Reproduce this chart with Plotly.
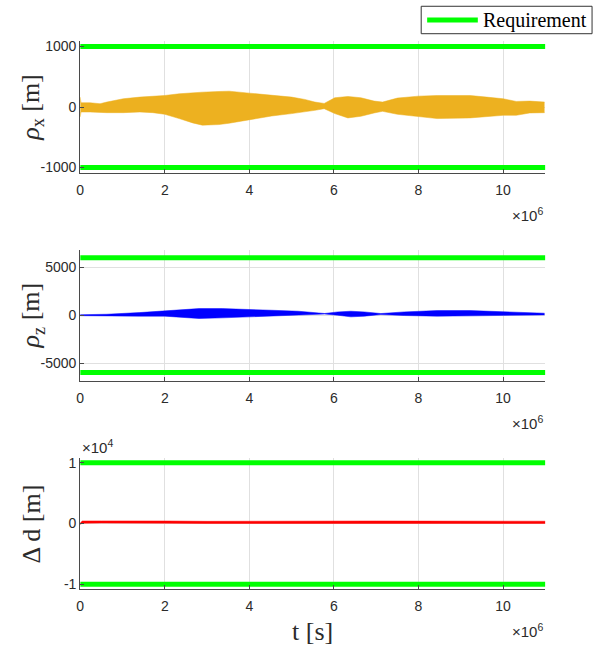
import plotly.graph_objects as go

# ---------------- data ----------------
# rho_x envelope, time in units of 1e6 s
t_rx = [0.0, 0.02, 0.23, 0.47, 0.63, 1.02, 1.41, 1.72, 2.0, 2.34, 2.66, 2.89, 3.28, 3.52,
        4.0, 4.53, 5.0, 5.31, 5.55, 5.77, 6.02, 6.33, 6.64, 6.95, 7.15, 7.5, 8.0, 8.44,
        9.22, 9.61, 10.0, 10.31, 10.63, 10.98]
rx_upper = [164, 71, 71, 55, 82, 137, 164, 175, 191, 219, 240, 246, 257, 262,
            230, 191, 164, 126, 82, 60, 153, 175, 153, 98, 82, 148, 180, 191,
            191, 164, 137, 93, 98, 82]
rx_lower = [-164, -82, -82, -93, -93, -93, -82, -93, -120, -191, -262, -300, -290, -268,
            -208, -148, -109, -82, -55, -27, -109, -180, -153, -98, -71, -120, -164, -191,
            -180, -153, -137, -137, -98, -93]

# rho_z envelope
t_rz = [0.0, 0.63, 1.41, 2.0, 2.42, 2.81, 3.36, 3.75, 4.0, 4.53, 5.16, 5.63, 5.78,
        6.09, 6.4, 6.72, 7.11, 7.66, 8.44, 9.22, 10.0, 10.98]
rz_upper = [50, 100, 276, 450, 586, 690, 690, 655, 620, 517, 414, 276, 180,
            345, 414, 345, 172, 345, 483, 483, 345, 207]
rz_lower = [-50, -100, -100, -100, -207, -345, -276, -207, -172, -100, -34, 70, 120,
            0, -172, -100, 70, -34, -100, -69, 0, 34]

# Delta d (thin noisy band)
t_dd = [0.0, 0.05, 0.5, 1.0, 1.5, 2.0, 3.0, 4.0, 5.0, 6.0, 7.0, 8.0, 9.0, 10.0, 11.0]
dd_upper = [100, 420, 430, 460, 480, 420, 360, 400, 350, 430, 420, 400, 380, 360, 380]
dd_lower = [-150, 60, 80, 100, 110, 60, 0, 20, 0, 60, 60, 40, 20, 0, 20]

# requirements
req_x = 1000
req_z = 6000
req_d = 10000
t_end = 11.0
legend_label = "Requirement"

# tick labels
x_tickvals = [0, 2, 4, 6, 8, 10]
x_ticktext = ["0", "2", "4", "6", "8", "10"]
y1_tickvals = [-1000, 0, 1000]
y1_ticktext = ["-1000", "0", "1000"]
y2_tickvals = [-5000, 0, 5000]
y2_ticktext = ["-5000", "0", "5000"]
y3_tickvals = [-10000, 0, 10000]
y3_ticktext = ["-1", "0", "1"]

# ---------------- figure ----------------
W, H = 600, 650
SCALE = 1e6
GREEN = "#00FF00"
ORANGE = "#EDB120"
BLUE = "#0000FF"
RED = "#FF0000"
AX = "#4a4a4a"
TXT = "#2b2b2b"
GRID = "#e0e0e0"
SERIF = "Liberation Serif, Times New Roman, serif"
SANS = "Liberation Sans, Arial, Helvetica, sans-serif"

fig = go.Figure()

def sx(v):
    return [a * SCALE for a in v]

def band(t, lo, up, color, xa, ya):
    fig.add_trace(go.Scatter(x=sx(t), y=lo, mode="lines", line=dict(width=0.5, color=color),
                             xaxis=xa, yaxis=ya, showlegend=False, hoverinfo="skip"))
    fig.add_trace(go.Scatter(x=sx(t), y=up, mode="lines", line=dict(width=0.5, color=color),
                             fill="tonexty", fillcolor=color, xaxis=xa, yaxis=ya,
                             showlegend=False, hoverinfo="skip"))

def req(level, xa, ya):
    for v in [level, -level]:
        fig.add_trace(go.Scatter(x=[0, t_end * SCALE], y=[v, v], mode="lines",
                                 line=dict(color=GREEN, width=5), xaxis=xa, yaxis=ya,
                                 name=legend_label, showlegend=False, hoverinfo="skip"))

band(t_rx, rx_lower, rx_upper, ORANGE, "x", "y")
req(req_x, "x", "y")
band(t_rz, rz_lower, rz_upper, BLUE, "x2", "y2")
req(req_z, "x2", "y2")
band(t_dd, dd_lower, dd_upper, RED, "x3", "y3")
req(req_d, "x3", "y3")

# pixel layout
x0, x1 = 76.7, 545.0
rows = [(38.3, 171.7), (249.3, 381.7), (459.3, 591.7)]
xdom = [x0 / W, x1 / W]

def ydom(top, bot):
    return [1 - bot / H, 1 - top / H]

def py(p):
    return 1 - p / H

def px(p):
    return p / W

common_x = dict(range=[0, t_end * SCALE], tickvals=sx(x_tickvals), ticktext=x_ticktext,
                showline=True, linecolor=AX, linewidth=1, ticks="inside", ticklen=4,
                tickcolor=AX, showgrid=True, gridcolor=GRID, gridwidth=1, zeroline=False,
                tickfont=dict(family=SANS, size=14, color=TXT), domain=xdom,
                ticklabelstandoff=4)
common_y = dict(showline=True, linecolor=AX, linewidth=1, ticks="inside", ticklen=4,
                tickcolor=AX, showgrid=True, gridcolor=GRID, gridwidth=1, zeroline=False,
                tickfont=dict(family=SANS, size=14, color=TXT))

fig.update_layout(
    width=W, height=H, margin=dict(l=0, r=0, t=0, b=0),
    paper_bgcolor="white", plot_bgcolor="white",
    xaxis=dict(common_x, anchor="y"),
    xaxis2=dict(common_x, anchor="y2"),
    xaxis3=dict(common_x, anchor="y3"),
    yaxis=dict(common_y, anchor="x", domain=ydom(*rows[0]), range=[-1093, 1093],
               tickvals=y1_tickvals, ticktext=y1_ticktext),
    yaxis2=dict(common_y, anchor="x2", domain=ydom(*rows[1]), range=[-6900, 6820],
                tickvals=y2_tickvals, ticktext=y2_ticktext),
    yaxis3=dict(common_y, anchor="x3", domain=ydom(*rows[2]), range=[-10810, 10770],
                tickvals=y3_tickvals, ticktext=y3_ticktext),
    showlegend=False,
)

# legend box drawn by hand (MATLAB style)
shapes = [
    dict(type="rect", xref="paper", yref="paper", x0=px(420), x1=px(592), y0=py(31), y1=py(3.3),
         line=dict(color="#333333", width=1), fillcolor="white", layer="above"),
    dict(type="line", xref="paper", yref="paper", x0=px(426), x1=px(477), y0=py(17.2), y1=py(17.2),
         line=dict(color=GREEN, width=5), layer="above"),
]
fig.update_layout(shapes=shapes)

ann = []
ann.append(dict(text=legend_label, xref="paper", yref="paper", x=px(480), y=py(17.5),
                xanchor="left", yanchor="middle", showarrow=False,
                font=dict(family=SERIF, size=20, color="black")))
# x10^6 multipliers
for top, bot in rows:
    ann.append(dict(text="×10<sup>6</sup>", xref="paper", yref="paper", x=px(x1),
                    y=py(bot + 42), xanchor="right", yanchor="middle", showarrow=False,
                    font=dict(family=SANS, size=15, color=TXT)))
# x10^4 multiplier
ann.append(dict(text="×10<sup>4</sup>", xref="paper", yref="paper", x=px(x0),
                y=py(448), xanchor="left", yanchor="middle", showarrow=False,
                font=dict(family=SANS, size=15, color=TXT)))
# y titles
ytitles = ["<i>ρ</i><sub>x</sub> [m]", "<i>ρ</i><sub>z</sub> [m]", "Δ d [m]"]
for (top, bot), ttl in zip(rows, ytitles):
    ann.append(dict(text=ttl, xref="paper", yref="paper", x=px(28), y=py((top + bot) / 2),
                    xanchor="center", yanchor="middle", textangle=-90, showarrow=False,
                    font=dict(family=SERIF, size=26, color=TXT)))
# x title
ann.append(dict(text="t [s]", xref="paper", yref="paper", x=px((x0 + x1) / 2),
                y=py(634), xanchor="center", yanchor="middle", showarrow=False,
                font=dict(family=SERIF, size=26, color=TXT)))
fig.update_layout(annotations=ann)

fig.write_html("out.html")
